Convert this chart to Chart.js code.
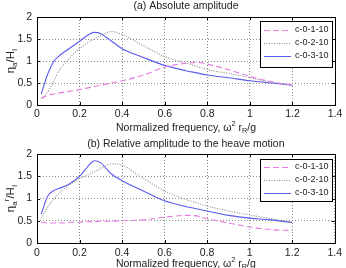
<!DOCTYPE html>
<html>
<head>
<meta charset="utf-8">
<script src="https://cdn.jsdelivr.net/npm/chart.js@4"></script>
<style>
  html, body { margin: 0; padding: 0; background: #fff; }
  .wrap { width: 346px; height: 134px; position: relative; }
  canvas { display: block; }
</style>
</head>
<body>
<div class="wrap"><canvas id="chartA"></canvas></div>
<div class="wrap"><canvas id="chartB"></canvas></div>
<script>
// 周波数（横軸）
const freq = [0.02, 0.05, 0.08, 0.1, 0.15, 0.2, 0.25, 0.27, 0.3, 0.35, 0.4, 0.5, 0.6, 0.7, 0.75, 0.8, 0.9, 1.0, 1.1, 1.2];

const seriesNames = ["c-0-1-10", "c-0-2-10", "c-0-3-10"];

// (a) Absolute amplitude
const absC1 = [0.15, 0.22, 0.25, 0.27, 0.31, 0.35, 0.40, 0.42, 0.45, 0.50, 0.55, 0.68, 0.86, 0.95, 0.97, 0.93, 0.80, 0.65, 0.53, 0.45];
const absC2 = [0.15, 0.30, 0.55, 0.75, 1.05, 1.28, 1.45, 1.50, 1.58, 1.67, 1.60, 1.35, 1.10, 0.95, 0.88, 0.80, 0.72, 0.62, 0.52, 0.45];
const absC3 = [0.25, 0.70, 1.00, 1.10, 1.28, 1.45, 1.62, 1.65, 1.62, 1.45, 1.28, 1.08, 0.90, 0.78, 0.73, 0.68, 0.62, 0.55, 0.50, 0.45];

// (b) Relative amplitude to the heave motion
const relC1 = [0.47, 0.45, 0.45, 0.45, 0.46, 0.47, 0.48, 0.48, 0.49, 0.49, 0.50, 0.52, 0.58, 0.62, 0.61, 0.55, 0.45, 0.36, 0.30, 0.28];
const relC2 = [0.55, 0.80, 1.00, 1.10, 1.30, 1.45, 1.55, 1.60, 1.68, 1.78, 1.75, 1.45, 1.17, 0.98, 0.90, 0.83, 0.72, 0.63, 0.55, 0.47];
const relC3 = [0.65, 1.05, 1.18, 1.22, 1.32, 1.50, 1.78, 1.85, 1.80, 1.55, 1.40, 1.17, 0.95, 0.82, 0.77, 0.72, 0.62, 0.56, 0.52, 0.46];

const xTicks = [0, 0.2, 0.4, 0.6, 0.8, 1, 1.2, 1.4];
const yTicks = [0, 0.5, 1, 1.5, 2];

const STYLES = [
  { color: "#e47ee4", dash: [6, 3] },
  { color: "#8a8a8a", dash: [1, 1.5] },
  { color: "#5b5bf0", dash: [] },
];

const FONT = "Liberation Sans, Arial, sans-serif";

// 添字つきテキスト（["text", "sub"|"sup"|null] の並び）
function drawRich(ctx, parts, x, y, size, align) {
  const widths = parts.map(([t, k]) => {
    ctx.font = `${k ? size * 0.7 : size}px ${FONT}`;
    return ctx.measureText(t).width;
  });
  const total = widths.reduce((a, b) => a + b, 0);
  let cx = align === "center" ? x - total / 2 : x;
  ctx.textAlign = "left";
  ctx.textBaseline = "middle";
  parts.forEach(([t, k], i) => {
    ctx.font = `${k ? size * 0.7 : size}px ${FONT}`;
    const dy = k === "sub" ? size * 0.3 : k === "sup" ? -size * 0.35 : 0;
    ctx.fillText(t, cx, y + dy);
    cx += widths[i];
  });
}

const decorPlugin = {
  id: "decor",
  afterDraw(chart, args, opts) {
    const { ctx, chartArea: a } = chart;
    ctx.save();
    ctx.fillStyle = "#222";

    // frame
    ctx.strokeStyle = "#000";
    ctx.lineWidth = 1;
    ctx.setLineDash([]);
    ctx.strokeRect(Math.round(a.left) + 0.5, Math.round(a.top) + 0.5,
      Math.round(a.right - a.left), Math.round(a.bottom - a.top));

    // inner ticks
    const xs = chart.scales.x, ys = chart.scales.y;
    ctx.beginPath();
    xTicks.forEach(v => {
      const px = Math.round(xs.getPixelForValue(v)) + 0.5;
      ctx.moveTo(px, a.bottom); ctx.lineTo(px, a.bottom - 3);
      ctx.moveTo(px, a.top); ctx.lineTo(px, a.top + 3);
    });
    yTicks.forEach(v => {
      const py = Math.round(ys.getPixelForValue(v)) + 0.5;
      ctx.moveTo(a.left, py); ctx.lineTo(a.left + 3, py);
      ctx.moveTo(a.right, py); ctx.lineTo(a.right - 3, py);
    });
    ctx.stroke();

    // title
    ctx.font = `10.5px ${FONT}`;
    ctx.textAlign = "center";
    ctx.textBaseline = "middle";
    ctx.fillText(opts.title, (a.left + a.right) / 2, opts.titleY);

    // x label
    drawRich(ctx, [["Normalized frequency, ω", null], ["2", "sup"], [" r", null], ["R", "sub"], ["/g", null]],
      (a.left + a.right) / 2, opts.xLabelY, 10.5, "center");

    // y label (rotated)
    ctx.save();
    ctx.translate(11, (a.top + a.bottom) / 2);
    ctx.rotate(-Math.PI / 2);
    drawRich(ctx, opts.yParts, 0, 0, 11.5, "center");
    ctx.restore();

    // legend
    const lx = 260, ly = opts.legendTop, lw = 72, lh = opts.legendH;
    ctx.fillStyle = "#fff";
    ctx.fillRect(lx, ly, lw, lh);
    ctx.strokeStyle = "#000";
    ctx.lineWidth = 1;
    ctx.setLineDash([]);
    ctx.strokeRect(lx + 0.5, ly + 0.5, lw, lh);
    ctx.font = `9px ${FONT}`;
    ctx.textAlign = "left";
    ctx.textBaseline = "middle";
    seriesNames.forEach((name, i) => {
      const y = ly + opts.rowTop + i * opts.rowGap;
      ctx.strokeStyle = STYLES[i].color;
      ctx.setLineDash(STYLES[i].dash);
      ctx.beginPath();
      ctx.moveTo(264, y + 0.5); ctx.lineTo(291, y + 0.5);
      ctx.stroke();
      ctx.fillStyle = "#222";
      ctx.fillText(name, 295, y);
    });
    ctx.restore();
  }
};

function makeChart(id, values, opts) {
  const datasets = values.map((vals, i) => ({
    label: seriesNames[i],
    data: freq.map((x, j) => ({ x, y: vals[j] })),
    borderColor: STYLES[i].color,
    borderDash: STYLES[i].dash,
    borderWidth: 1.1,
    pointRadius: 0,
    fill: false,
    cubicInterpolationMode: "monotone",
  }));

  return new Chart(document.getElementById(id).getContext("2d"), {
    type: "line",
    data: { datasets },
    plugins: [decorPlugin],
    options: {
      responsive: true,
      maintainAspectRatio: false,
      animation: false,
      events: [],
      layout: { padding: { left: 0, top: opts.padTop, right: 11, bottom: 0 } },
      plugins: {
        legend: { display: false },
        tooltip: { enabled: false },
        decor: opts,
      },
      scales: {
        x: {
          type: "linear", min: 0, max: 1.4,
          afterBuildTicks: s => { s.ticks = xTicks.map(v => ({ value: v })); },
          afterFit: s => { s.height = opts.xAxisH; },
          border: { display: false, dash: [1, 2] },
          grid: { color: "#8c8c8c", drawTicks: false },
          ticks: {
            color: "#222", padding: opts.tickPad, maxRotation: 0,
            font: { family: FONT, size: 10.5 },
            callback: v => String(+Number(v).toFixed(1)),
          },
        },
        y: {
          min: 0, max: 2,
          afterBuildTicks: s => { s.ticks = yTicks.map(v => ({ value: v })); },
          afterFit: s => { s.width = 37; },
          border: { display: false, dash: [1, 2] },
          grid: { color: "#8c8c8c", drawTicks: false },
          ticks: {
            color: "#222", padding: 5,
            font: { family: FONT, size: 10.5 },
            callback: v => String(+Number(v).toFixed(1)),
          },
        },
      },
    },
  });
}

makeChart("chartA", [absC1, absC2, absC3], {
  title: "(a) Absolute amplitude",
  titleY: 6, padTop: 17, xAxisH: 29, tickPad: 3, xLabelY: 128,
  yParts: [["η", null], ["a", "sub"], ["/H", null], ["I", "sub"]],
  legendTop: 21, legendH: 46, rowTop: 9, rowGap: 13,
});

makeChart("chartB", [relC1, relC2, relC3], {
  title: "(b) Relative amplitude to the heave motion",
  titleY: 10, padTop: 20, xAxisH: 25, tickPad: 4, xLabelY: 130,
  yParts: [["η", null], ["a", "sub"], ["r", "sup"], ["/H", null], ["I", "sub"]],
  legendTop: 25, legendH: 42, rowTop: 8, rowGap: 13,
});
</script>
</body>
</html>
